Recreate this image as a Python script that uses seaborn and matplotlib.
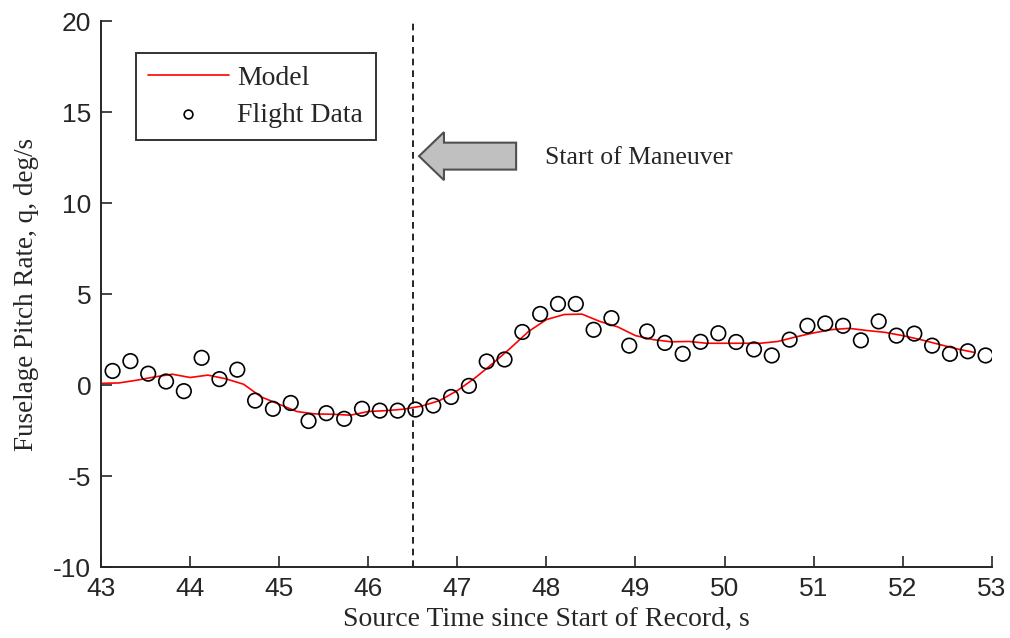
import numpy as np
import pandas as pd
import matplotlib
matplotlib.use("Agg")
import matplotlib.pyplot as plt
from matplotlib.patches import FancyArrow
import seaborn as sns

# Model curve (sampled every 0.2 s)
model_time = [43.0, 43.2, 43.4, 43.6, 43.8, 44.0, 44.2, 44.4, 44.6, 44.8,
              45.0, 45.2, 45.4, 45.6, 45.8, 46.0, 46.2, 46.4, 46.6, 46.8,
              47.0, 47.2, 47.4, 47.6, 47.8, 48.0, 48.2, 48.4, 48.6, 48.8,
              49.0, 49.2, 49.4, 49.6, 49.8, 50.0, 50.2, 50.4, 50.6, 50.8,
              51.0, 51.2, 51.4, 51.6, 51.8, 52.0, 52.2, 52.4, 52.6, 52.8]
model_q = [0.10, 0.12, 0.27, 0.45, 0.60, 0.42, 0.55, 0.35, 0.05, -0.65,
           -1.05, -1.45, -1.58, -1.60, -1.65, -1.45, -1.40, -1.32, -1.15, -0.85,
           -0.30, 0.40, 1.20, 2.05, 2.95, 3.60, 3.88, 3.90, 3.50, 3.20,
           2.72, 2.50, 2.38, 2.40, 2.30, 2.30, 2.30, 2.30, 2.40, 2.65,
           2.87, 3.05, 3.12, 3.00, 2.90, 2.72, 2.50, 2.25, 2.00, 1.80]

# Flight data
flight_time = [43.13, 43.33, 43.53, 43.73, 43.93, 44.13, 44.33, 44.53, 44.73, 44.93,
               45.13, 45.33, 45.53, 45.73, 45.93, 46.13, 46.33, 46.53, 46.73, 46.93,
               47.13, 47.33, 47.53, 47.73, 47.93, 48.13, 48.33, 48.53, 48.73, 48.93,
               49.13, 49.33, 49.53, 49.73, 49.93, 50.13, 50.33, 50.53, 50.73, 50.93,
               51.13, 51.33, 51.53, 51.73, 51.93, 52.13, 52.33, 52.53, 52.73, 52.93]
flight_q = [0.78, 1.32, 0.63, 0.20, -0.33, 1.50, 0.33, 0.85, -0.85, -1.30,
            -0.98, -1.97, -1.54, -1.85, -1.30, -1.40, -1.40, -1.34, -1.12, -0.65,
            -0.04, 1.30, 1.41, 2.92, 3.91, 4.46, 4.46, 3.04, 3.68, 2.17,
            2.95, 2.32, 1.72, 2.38, 2.85, 2.37, 1.96, 1.63, 2.50, 3.26,
            3.39, 3.26, 2.46, 3.50, 2.72, 2.83, 2.17, 1.72, 1.86, 1.63]

maneuver_start = 46.5

model = pd.DataFrame({"t": model_time, "q": model_q})
flight = pd.DataFrame({"t": flight_time, "q": flight_q})

sns.set_style("ticks")
plt.rcParams["font.family"] = ["Liberation Serif", "DejaVu Serif"]
plt.rcParams["axes.unicode_minus"] = False
tick_font = ["Liberation Sans Narrow", "Liberation Sans", "DejaVu Sans"]

fig = plt.figure(figsize=(10.1, 6.38), dpi=100)
ax = fig.add_axes([0.1, 0.111, 0.882, 0.856])

sns.lineplot(data=model, x="t", y="q", color="red", linewidth=1.2,
             label="Model", ax=ax)
sns.scatterplot(data=flight, x="t", y="q", marker="o", s=110,
                facecolor="none", edgecolor="black", linewidth=1.2,
                label="Flight Data", ax=ax, zorder=3)

ax.axvline(maneuver_start, color="black", linestyle=(0, (4, 3)), linewidth=1.2)

# grey arrow pointing at the maneuver start
ax.add_patch(FancyArrow(47.66, 12.58, -1.09, 0, width=1.48, head_width=2.64,
                        head_length=0.28, length_includes_head=True,
                        facecolor="#c0c0c0", edgecolor="#505050", linewidth=1.5))
ax.text(47.98, 12.47, "Start of Maneuver", fontsize=18.5, va="center", ha="left")

ax.set_xlim(43, 53)
ax.set_ylim(-10, 20)
ax.set_xticks(range(43, 54))
ax.set_yticks(range(-10, 21, 5))
ax.tick_params(direction="in", length=8, width=1.2, labelsize=19, pad=7)
for lab in ax.get_xticklabels() + ax.get_yticklabels():
    lab.set_family(tick_font)
for s in ["top", "right"]:
    ax.spines[s].set_visible(False)
for s in ["left", "bottom"]:
    ax.spines[s].set_linewidth(1.4)

ax.set_xlabel("Source Time since Start of Record, s", fontsize=20, labelpad=4)
ax.set_ylabel("Fuselage Pitch Rate, q, deg/s", fontsize=19.5, labelpad=10)

leg = ax.legend(loc="upper left", bbox_to_anchor=(0.039, 0.941), borderaxespad=0,
                fontsize=20, frameon=True, fancybox=False, edgecolor="black",
                handlelength=2.9, handletextpad=0.3, markerscale=0.6,
                labelspacing=0.4, borderpad=0.45)
leg.get_frame().set_linewidth(1.4)

fig.savefig("out.png", dpi=100)
